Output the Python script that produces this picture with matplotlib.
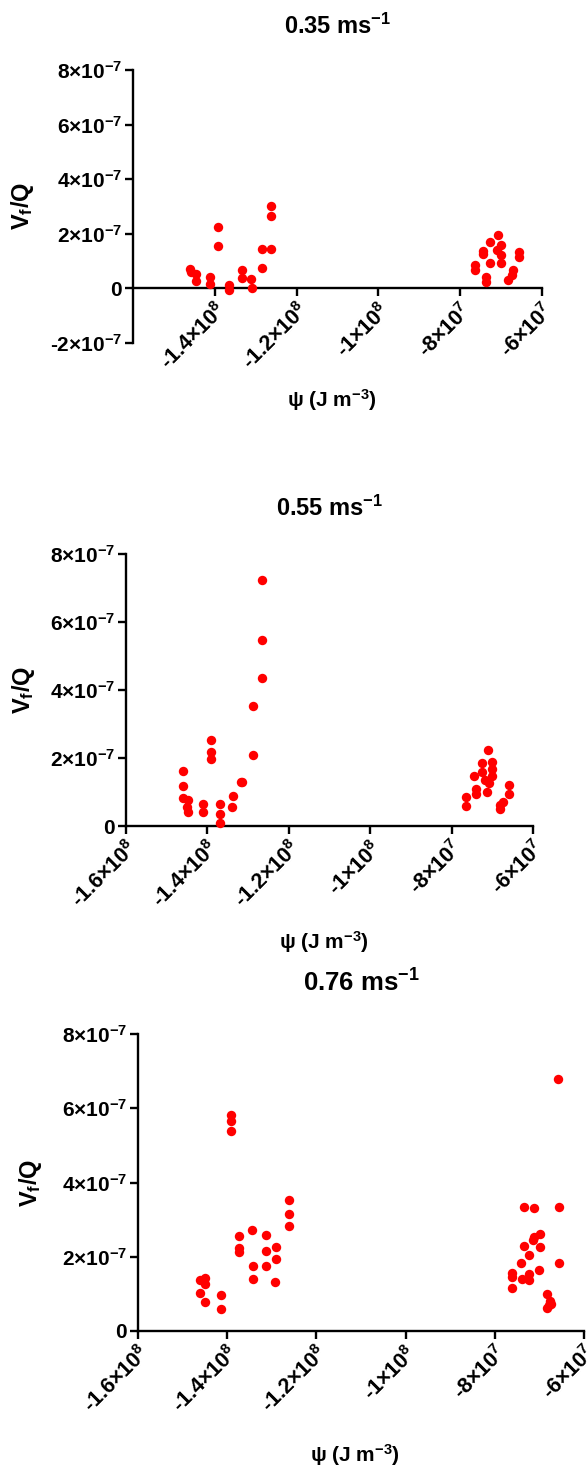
import numpy as np
import matplotlib
matplotlib.use("Agg")
import matplotlib.pyplot as plt

# =====================
# Data (psi in 1e8 J m-3, Vf/Q in 1e-7)
# =====================

psi_035 = [-1.460, -1.457, -1.447, -1.446, -1.412, -1.412, -1.391, -1.391,
           -1.365, -1.365, -1.333, -1.333, -1.311, -1.308, -1.284, -1.284,
           -1.263, -1.263, -1.262,
           -0.708, -0.726, -0.701, -0.744, -0.744, -0.709, -0.700, -0.656,
           -0.657, -0.765, -0.765, -0.726, -0.701, -0.672, -0.674, -0.682,
           -0.736, -0.736]
vq_035 = [0.70, 0.61, 0.53, 0.26, 0.40, 0.15, 2.24, 1.54,
          0.10, -0.06, 0.67, 0.39, 0.33, 0.00, 1.43, 0.75,
          3.03, 2.66, 1.43,
          1.95, 1.71, 1.57, 1.38, 1.26, 1.41, 1.22, 1.32,
          1.14, 0.86, 0.67, 0.92, 0.92, 0.67, 0.49, 0.31,
          0.40, 0.21]

psi_055 = [-1.460, -1.460, -1.460, -1.447, -1.449, -1.447, -1.412, -1.412,
           -1.391, -1.391, -1.391, -1.369, -1.369, -1.369, -1.340, -1.336,
           -1.318, -1.314, -1.288, -1.288, -1.266, -1.266, -1.266,
           -0.710, -0.726, -0.700, -0.700, -0.726, -0.744, -0.700, -0.717,
           -0.709, -0.740, -0.739, -0.712, -0.658, -0.658, -0.764, -0.764,
           -0.674, -0.680, -0.682]
vq_055 = [1.62, 1.17, 0.81, 0.76, 0.56, 0.41, 0.66, 0.41,
          2.52, 2.18, 1.96, 0.66, 0.34, 0.10, 0.56, 0.88,
          1.29, 1.29, 2.10, 3.53, 4.34, 5.48, 7.24,
          2.25, 1.84, 1.87, 1.69, 1.59, 1.46, 1.46, 1.34,
          1.26, 1.10, 0.93, 1.00, 1.20, 0.93, 0.84, 0.60,
          0.71, 0.61, 0.51]

psi_076 = [-1.392, -1.392, -1.392, -1.261, -1.262, -1.262, -1.374, -1.374,
           -1.374, -1.345, -1.313, -1.313, -1.291, -1.290, -1.343, -1.343,
           -1.312, -1.293, -1.461, -1.449, -1.449, -1.461, -1.449, -1.413,
           -1.413,
           -0.658, -0.735, -0.712, -0.657, -0.699, -0.713, -0.714, -0.735,
           -0.699, -0.724, -0.742, -0.656, -0.700, -0.762, -0.762, -0.740,
           -0.724, -0.724, -0.762, -0.682, -0.676, -0.674, -0.682, -0.679]
vq_076 = [5.81, 5.65, 5.38, 3.54, 3.16, 2.83, 2.55, 2.23,
          2.14, 2.71, 2.59, 2.16, 2.25, 1.94, 1.76, 1.41,
          1.76, 1.33, 1.38, 1.44, 1.26, 1.02, 0.79, 0.97,
          0.60,
          6.78, 3.35, 3.32, 3.34, 2.62, 2.54, 2.45, 2.30,
          2.26, 2.06, 1.83, 1.83, 1.63, 1.55, 1.46, 1.40,
          1.53, 1.37, 1.15, 1.01, 0.81, 0.74, 0.63, 0.70]

titles = ["0.35 ms$^{-1}$", "0.55 ms$^{-1}$", "0.76 ms$^{-1}$"]

x_ticks = [-1.6e8, -1.4e8, -1.2e8, -1e8, -8e7, -6e7]
x_labels = ["-1.6×10$^{8}$", "-1.4×10$^{8}$", "-1.2×10$^{8}$", "-1×10$^{8}$",
            "-8×10$^{7}$", "-6×10$^{7}$"]
y_ticks = [-2e-7, 0, 2e-7, 4e-7, 6e-7, 8e-7]
y_labels = ["-2×10$^{-7}$", "0", "2×10$^{-7}$", "4×10$^{-7}$", "6×10$^{-7}$",
            "8×10$^{-7}$"]

# =====================
# Style
# =====================

plt.rcParams["font.family"] = ["Liberation Sans", "DejaVu Sans"]
plt.rcParams["font.weight"] = "bold"
plt.rcParams["mathtext.default"] = "regular"

W, H = 588, 1476
fig = plt.figure(figsize=(W / 100, H / 100), dpi=100)


def box(left, right, top, bottom):
    return [left / W, 1 - bottom / H, (right - left) / W, (bottom - top) / H]


panels = [
    # axes pixels, ymin, first x tick, title y, xlabel y, ylabel x, title size
    (box(133, 542, 70, 342.7), -2e-7, 1, 26, 400, 22, 17),
    (box(126, 533, 554, 826), 0, 0, 508, 942, 24, 17),
    (box(138, 584, 1034, 1331), 0, 0, 983, 1455, 30, 18.5),
]

data = [(psi_035, vq_035), (psi_055, vq_055), (psi_076, vq_076)]

for i, (rect, ymin, first, ty, xly, ylx, tsize) in enumerate(panels):
    ax = fig.add_axes(rect)
    psi, vq = data[i]
    ax.scatter(np.array(psi) * 1e8, np.array(vq) * 1e-7,
               s=46, color="#ff0000", linewidths=0, zorder=3, clip_on=False)

    ax.set_xlim(-1.6e8, -6e7)
    ax.set_ylim(ymin, 8e-7)

    ax.spines["top"].set_visible(False)
    ax.spines["right"].set_visible(False)
    for s in ["left", "bottom"]:
        ax.spines[s].set_linewidth(1.7)
    ax.spines["bottom"].set_position(("data", 0))

    ax.set_xticks(x_ticks[first:])
    ax.set_xticklabels(x_labels[first:], rotation=45, ha="right",
                       rotation_mode="anchor", fontsize=15.5, fontweight="bold")
    k = 0 if ymin < 0 else 1
    ax.set_yticks(y_ticks[k:])
    ax.set_yticklabels(y_labels[k:], fontsize=15, fontweight="bold")
    ax.tick_params(length=6, width=1.7, direction="out", pad=2)

    cx = (rect[0] + rect[2] / 2)
    cy = (rect[1] + rect[3] / 2)
    fig.text(cx, 1 - ty / H, titles[i], ha="center", va="center",
             fontsize=tsize, fontweight="bold")
    fig.text(cx - 0.01, 1 - xly / H, "ψ (J m$^{-3}$)", ha="center",
             va="center", fontsize=15, fontweight="bold")
    fig.text(ylx / W, cy, "V$_{f}$/Q", ha="center", va="center",
             rotation=90, fontsize=17, fontweight="bold")

plt.savefig("out.png", dpi=100)
